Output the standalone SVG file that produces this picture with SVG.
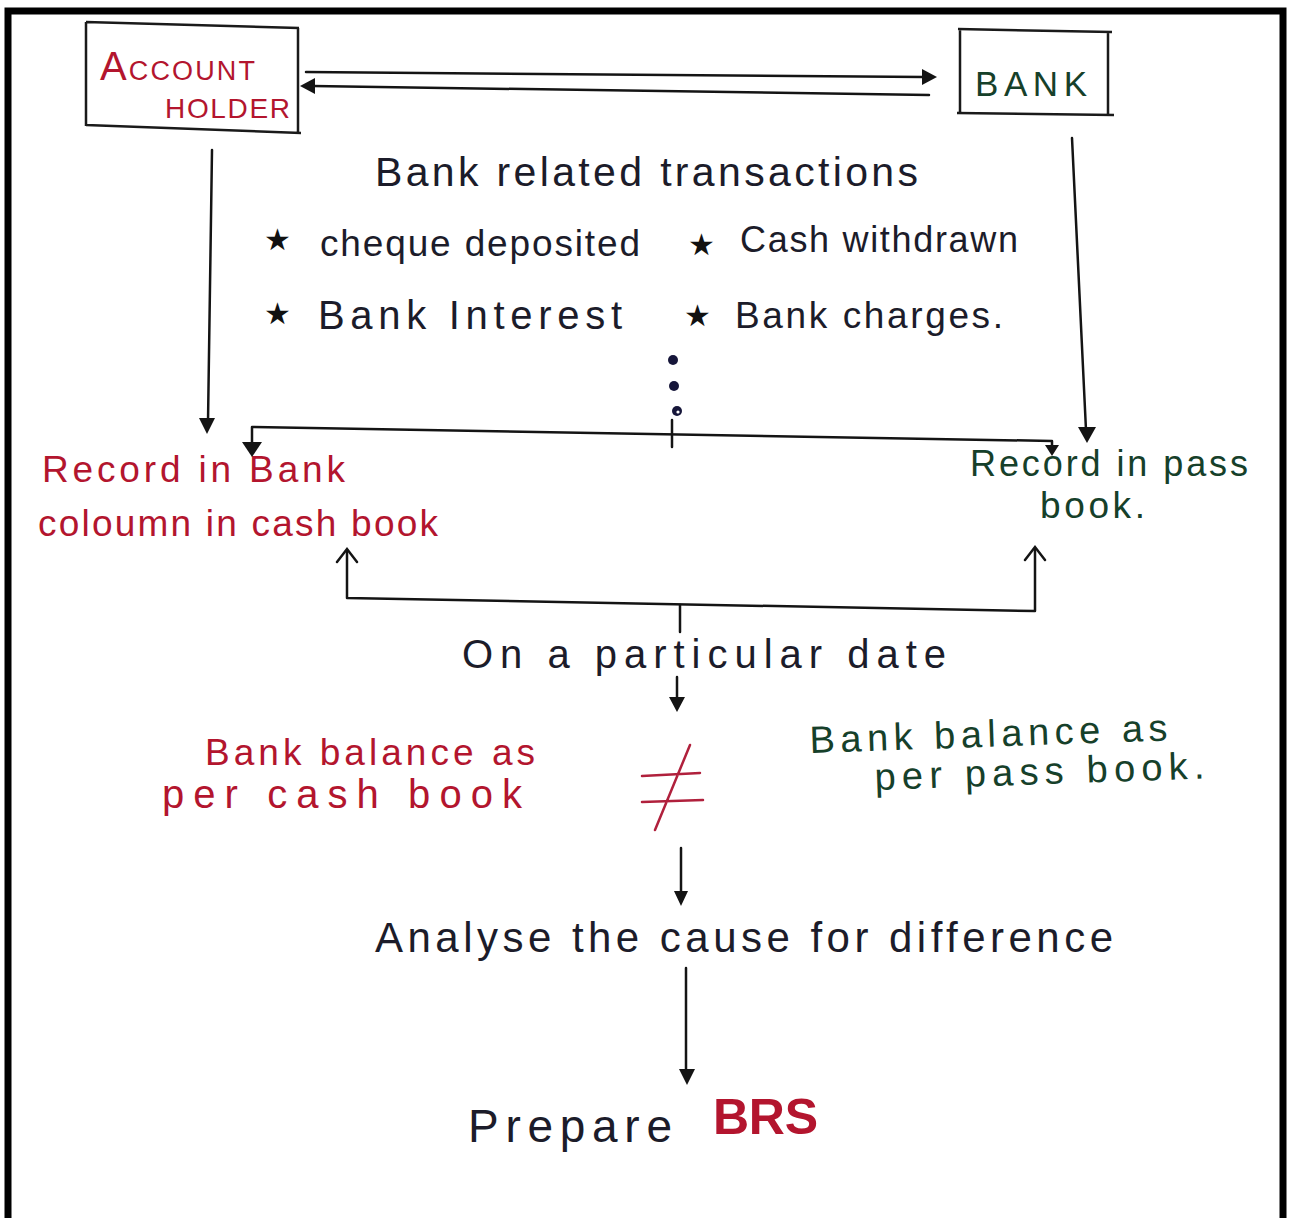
<svg xmlns="http://www.w3.org/2000/svg" width="1289" height="1218" viewBox="0 0 1289 1218">
<defs>
<style>
.t{font-family:"Liberation Sans","DejaVu Sans",sans-serif;}
.blk{fill:#1c1c2a;}
.red{fill:#b3152e;}
.grn{fill:#16402a;}
.star{font-family:"DejaVu Sans",sans-serif;font-size:30px;fill:#111;}
.ln{stroke:#141414;stroke-width:2.5;fill:none;stroke-linecap:round;stroke-linejoin:round;}
.bx{stroke:#1a1a1a;stroke-width:2.5;fill:none;}
.hd{fill:#141414;}
.open{stroke:#141414;stroke-width:2.5;fill:none;stroke-linecap:round;}
</style>
</defs>
<rect x="0" y="0" width="1289" height="1218" fill="#ffffff"/>
<rect x="8" y="11" width="1275" height="1225" fill="none" stroke="#000" stroke-width="7"/>

<g id="account-holder">
<path class="bx" d="M86,22 L299,28 M86,22 L86,126 M298,28 L298,133 M86,125 L301,133"/>
<text class="t red" x="100" y="80" textLength="155" lengthAdjust="spacing"><tspan font-size="40">A</tspan><tspan font-size="27">CCOUNT</tspan></text>
<text class="t red" x="165" y="118" font-size="28" textLength="125" lengthAdjust="spacing">HOLDER</text>
</g>

<g id="bank">
<path class="bx" d="M958,29 L1112,32 M960,29 L960,113 M1108,32 L1108,115 M957,113 L1114,115"/>
<text class="t grn" x="975" y="96" font-size="35" textLength="112" lengthAdjust="spacing">BANK</text>
</g>

<g id="transactions">
<text class="t blk" x="375" y="186" font-size="41" textLength="543" lengthAdjust="spacing">Bank related transactions</text>
<text class="star" x="264" y="250">★</text>
<text class="t blk" x="320" y="256" font-size="37" textLength="320" lengthAdjust="spacing">cheque deposited</text>
<text class="star" x="688" y="255">★</text>
<text class="t blk" x="740" y="252" font-size="36" textLength="278" lengthAdjust="spacing">Cash withdrawn</text>
<text class="star" x="264" y="324">★</text>
<text class="t blk" x="318" y="329" font-size="40" textLength="304" lengthAdjust="spacing">Bank Interest</text>
<text class="star" x="684" y="326">★</text>
<text class="t blk" x="735" y="328" font-size="37" textLength="268" lengthAdjust="spacing">Bank charges.</text>
<circle cx="673" cy="360" r="5" fill="#16163a"/>
<circle cx="674" cy="386" r="5" fill="#16163a"/>
<circle cx="677" cy="411" r="5" fill="#16163a"/>
<circle cx="678" cy="412" r="1.6" fill="#ffffff"/>
</g>

<g id="record-cashbook">
<text class="t red" x="42" y="482" font-size="37" textLength="303" lengthAdjust="spacing">Record in Bank</text>
<text class="t red" x="38" y="536" font-size="37" textLength="400" lengthAdjust="spacing">coloumn in cash book</text>
</g>

<g id="record-passbook">
<text class="t grn" x="970" y="476" font-size="36" textLength="278" lengthAdjust="spacing">Record in pass</text>
<text class="t grn" x="1040" y="518" font-size="37" textLength="105" lengthAdjust="spacing">book.</text>
</g>

<g id="particular-date">
<text class="t blk" x="462" y="668" font-size="40" textLength="484" lengthAdjust="spacing">On a particular date</text>
</g>

<g id="balance-cashbook">
<text class="t red" x="205" y="765" font-size="37" textLength="330" lengthAdjust="spacing">Bank balance as</text>
<text class="t red" x="162" y="808" font-size="40" textLength="360" lengthAdjust="spacing">per cash book</text>
</g>

<g id="not-equal">
<path d="M642,776 L700,773 M642,802 L703,800 M690,745 L655,830" stroke="#b0203c" stroke-width="2.5" fill="none" stroke-linecap="round"/>
</g>

<g id="balance-passbook">
<text class="t grn" x="810" y="753" font-size="38" textLength="358" lengthAdjust="spacing" transform="rotate(-2 810 753)">Bank balance as</text>
<text class="t grn" x="875" y="790" font-size="38" textLength="330" lengthAdjust="spacing" transform="rotate(-2 875 790)">per pass book.</text>
</g>

<g id="analyse">
<text class="t blk" x="375" y="952" font-size="42" textLength="738" lengthAdjust="spacing">Analyse the cause for difference</text>
</g>

<g id="prepare">
<text class="t blk" x="468" y="1142" font-size="46" textLength="204" lengthAdjust="spacing">Prepare</text>
<text class="t red" x="713" y="1134" font-size="50" font-weight="bold" textLength="105" lengthAdjust="spacing">BRS</text>
</g>

<g id="connectors">
<path class="ln" d="M306,72 L924,77"/>
<polygon class="hd" points="937,77 922,69 922,85"/>
<path class="ln" d="M929,95 L313,86"/>
<polygon class="hd" points="300,86 315,78 315,94"/>
<path class="ln" d="M212,150 L208,422"/>
<polygon class="hd" points="207,434 199,418 215,418"/>
<path class="ln" d="M1072,138 L1086,430"/>
<polygon class="hd" points="1087,443 1078,427 1096,427"/>
<path class="ln" d="M252,446 L252,427 L1052,441 L1052,448"/>
<polygon class="hd" points="252,457 242,442 262,442"/>
<polygon class="hd" points="1052,456 1045,445 1059,445"/>
<path class="ln" d="M672,420 L672,447"/>
<path class="ln" d="M347,550 L347,598 L1035,611 L1035,549"/>
<path class="open" d="M337,562 L347,549 L357,562 M1025,560 L1035,547 L1045,560"/>
<path class="ln" d="M680,605 L680,632"/>
<path class="ln" d="M677,677 L677,700"/>
<polygon class="hd" points="677,712 669,697 685,697"/>
<path class="ln" d="M681,848 L681,893"/>
<polygon class="hd" points="681,906 674,891 688,891"/>
<path class="ln" d="M686,968 L686,1072"/>
<polygon class="hd" points="687,1085 679,1069 695,1069"/>
</g>
</svg>
